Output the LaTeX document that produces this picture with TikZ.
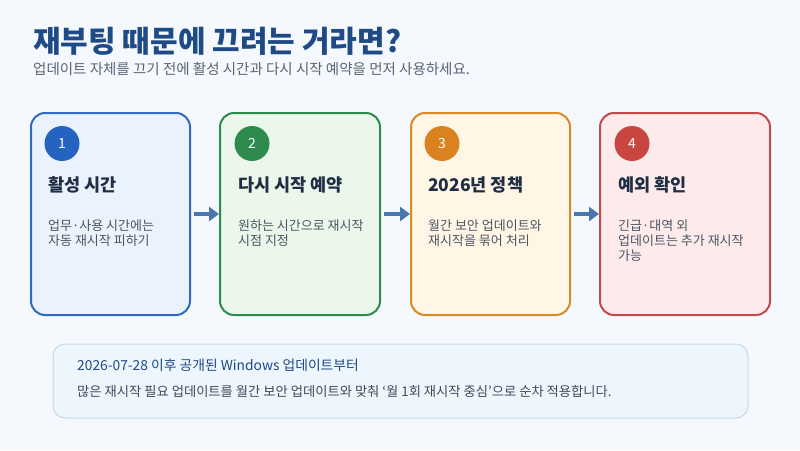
\documentclass[tikz,border=0pt]{standalone}
\usepackage{fontspec}
\setmainfont{Noto Sans CJK KR}
\usetikzlibrary{arrows.meta}
\definecolor{pagebg}{HTML}{F5F9FE}
\definecolor{titlec}{HTML}{1E4A86}
\definecolor{subc}{HTML}{5B6475}
\definecolor{headc}{HTML}{1F2D45}
\definecolor{bodyc}{HTML}{4B5563}
\definecolor{arrowc}{HTML}{4A76AD}
\definecolor{bAfill}{HTML}{EAF3FD}\definecolor{bAline}{HTML}{2F6BBF}\definecolor{bAdot}{HTML}{2563C0}
\definecolor{bBfill}{HTML}{EAF7EA}\definecolor{bBline}{HTML}{2E8B4E}\definecolor{bBdot}{HTML}{2E8B4E}
\definecolor{bCfill}{HTML}{FFF6E6}\definecolor{bCline}{HTML}{D98A26}\definecolor{bCdot}{HTML}{D9821F}
\definecolor{bDfill}{HTML}{FDEBEB}\definecolor{bDline}{HTML}{C44A4A}\definecolor{bDdot}{HTML}{C9453F}
\definecolor{notefill}{HTML}{EEF6FD}\definecolor{noteline}{HTML}{C5D8EE}
\tikzset{
  card/.style={draw, line width=2pt, rounded corners=14pt, minimum height=202pt, inner sep=0pt},
  numdot/.style={circle, minimum size=35pt, inner sep=0pt, text=white, font=\fontsize{14}{14}\selectfont},
  cardhead/.style={anchor=base west, inner sep=0pt, text=headc, font=\fontsize{17.5}{17.5}\selectfont\bfseries},
  cardbody/.style={anchor=base west, inner sep=0pt, text=bodyc, align=left, font=\fontsize{13}{15}\selectfont},
  flow/.style={draw=arrowc, line width=4pt, -{Triangle[length=10pt,width=14pt]}, shorten <=3pt}
}
\begin{document}
\begin{tikzpicture}[x=1pt,y=-1pt]
\fill[pagebg] (0,0) rectangle (800,450);
\useasboundingbox (0,0) rectangle (800,450);

\node[anchor=base west, inner sep=0pt, text=titlec, font=\fontsize{30}{30}\selectfont\bfseries] (title) at (33,52) {재부팅 때문에 끄려는 거라면?};
\node[anchor=base west, inner sep=0pt, text=subc, font=\fontsize{14.5}{14.5}\selectfont] (sub) at (33,74.5) {업데이트 자체를 끄기 전에 활성 시간과 다시 시작 예약을 먼저 사용하세요.};

\node[card, draw=bAline, fill=bAfill, minimum width=159pt] (b1) at (110.5,214) {};
\node[card, draw=bBline, fill=bBfill, minimum width=160pt] (b2) at (300,214) {};
\node[card, draw=bCline, fill=bCfill, minimum width=159pt] (b3) at (490.5,214) {};
\node[card, draw=bDline, fill=bDfill, minimum width=170pt] (b4) at (685,214) {};

\node[numdot, fill=bAdot] (n1) at (62,143.5) {1};
\node[numdot, fill=bBdot] (n2) at (252,143.5) {2};
\node[numdot, fill=bCdot] (n3) at (442,143.5) {3};
\node[numdot, fill=bDdot] (n4) at (632,143.5) {4};

\node[cardhead] (h1) at (48,191) {활성 시간};
\node[cardhead] (h2) at (238,191) {다시 시작 예약};
\node[cardhead] (h3) at (428,191) {2026년 정책};
\node[cardhead] (h4) at (618,191) {예외 확인};

\node[cardbody] (t1) at (48,245) {업무·사용 시간에는\\자동 재시작 피하기};
\node[cardbody] (t2) at (238,245) {원하는 시간으로 재시작\\시점 지정};
\node[cardbody] (t3) at (428,245) {월간 보안 업데이트와\\재시작을 묶어 처리};
\node[cardbody] (t4) at (618,260) {긴급·대역 외\\업데이트는 추가 재시작\\가능};

\draw[flow] (b1.east) -- (b2.west);
\draw[flow] (b2.east) -- (b3.west);
\draw[flow] (b3.east) -- (b4.west);

\node[draw=noteline, line width=1pt, fill=notefill, rounded corners=12pt, minimum width=695pt, minimum height=74pt, inner sep=0pt] (note) at (400.5,381) {};
\node[anchor=base west, inner sep=0pt, text=titlec, font=\fontsize{13.8}{13.8}\selectfont] (nt1) at (77,370.5) {2026-07-28 이후 공개된 Windows 업데이트부터};
\node[anchor=base west, inner sep=0pt, text=bodyc!85!black, font=\fontsize{13.3}{13.3}\selectfont] (nt2) at (77,396) {많은 재시작 필요 업데이트를 월간 보안 업데이트와 맞춰 ‘월 1회 재시작 중심’으로 순차 적용합니다.};
\end{tikzpicture}
\end{document}
